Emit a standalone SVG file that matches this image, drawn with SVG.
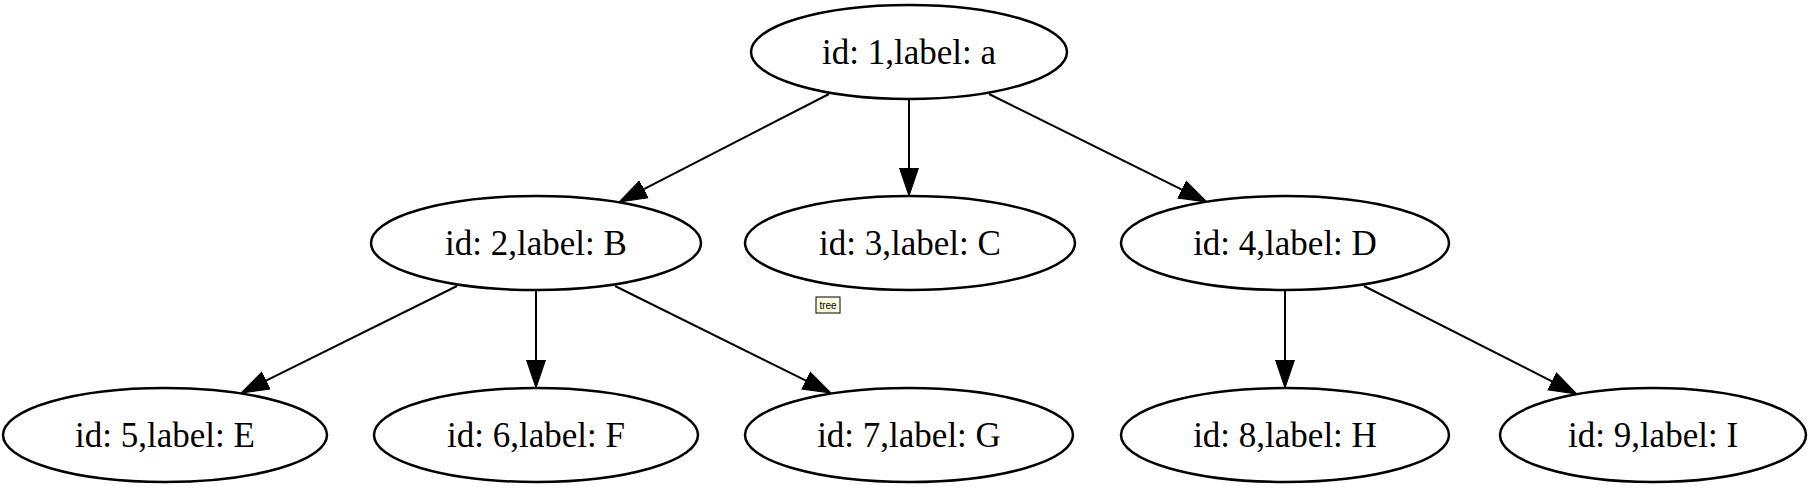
<svg xmlns="http://www.w3.org/2000/svg" width="1811" height="493" viewBox="0 0 1811 493">
<defs>
<style>
.node ellipse{fill:#fff;stroke:#000;stroke-width:2.5}
.node text{font-family:"Liberation Serif","Times New Roman",serif;font-size:35px;text-anchor:middle;fill:#000}
.edge{stroke:#000;stroke-width:2;fill:none}
</style>
<marker id="arr" markerUnits="userSpaceOnUse" markerWidth="30" markerHeight="22" viewBox="0 -11 30 22" refX="0" refY="0" orient="auto">
<path d="M0,-9.5 L28,0 L0,9.5 Z" fill="#000" stroke="#000" stroke-width="1"/>
</marker>
</defs>
<rect width="1811" height="493" fill="#fff"/>
<g id="edges">
<line class="edge" x1="829" y1="94" x2="643.9" y2="189.2" marker-end="url(#arr)"/>
<line class="edge" x1="909" y1="99" x2="909" y2="168" marker-end="url(#arr)"/>
<line class="edge" x1="989" y1="94" x2="1181.9" y2="189.6" marker-end="url(#arr)"/>
<line class="edge" x1="457" y1="286" x2="266.1" y2="380.6" marker-end="url(#arr)"/>
<line class="edge" x1="536" y1="290" x2="536" y2="360" marker-end="url(#arr)"/>
<line class="edge" x1="615" y1="286" x2="805.9" y2="380.6" marker-end="url(#arr)"/>
<line class="edge" x1="1285" y1="290" x2="1285" y2="360" marker-end="url(#arr)"/>
<line class="edge" x1="1364" y1="286" x2="1552" y2="381.3" marker-end="url(#arr)"/>
</g>
<g id="n1" class="node"><ellipse cx="909" cy="52" rx="158" ry="47"/><text x="909" y="64">id: 1,label: a</text></g>
<g id="n2" class="node"><ellipse cx="536" cy="243" rx="165" ry="47"/><text x="536" y="255">id: 2,label: B</text></g>
<g id="n3" class="node"><ellipse cx="910" cy="243" rx="165" ry="47"/><text x="910" y="255">id: 3,label: C</text></g>
<g id="n4" class="node"><ellipse cx="1285" cy="243" rx="164" ry="47"/><text x="1285" y="255">id: 4,label: D</text></g>
<g id="n5" class="node"><ellipse cx="165" cy="435" rx="162" ry="47"/><text x="165" y="447">id: 5,label: E</text></g>
<g id="n6" class="node"><ellipse cx="536" cy="435" rx="162" ry="47"/><text x="536" y="447">id: 6,label: F</text></g>
<g id="n7" class="node"><ellipse cx="909" cy="435" rx="164" ry="47"/><text x="909" y="447">id: 7,label: G</text></g>
<g id="n8" class="node"><ellipse cx="1285" cy="435" rx="164" ry="47"/><text x="1285" y="447">id: 8,label: H</text></g>
<g id="n9" class="node"><ellipse cx="1653" cy="435" rx="153" ry="47"/><text x="1653" y="447">id: 9,label: I</text></g>
<g id="tree-label">
<rect x="816" y="297" width="24" height="16" fill="#ffffe1" stroke="#000" stroke-width="1"/>
<text x="828" y="309" font-family="Liberation Sans,Arial,sans-serif" font-size="10" text-anchor="middle" fill="#000">tree</text>
</g>
</svg>
